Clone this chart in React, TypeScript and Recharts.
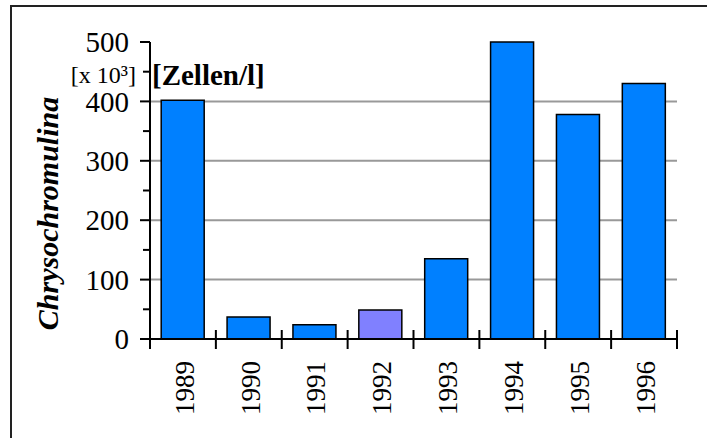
import React from "react"
import { BarChart, Bar, XAxis, YAxis, CartesianGrid, Cell } from "recharts"

const years = ["1989", "1990", "1991", "1992", "1993", "1994", "1995", "1996"]
const cellCounts = [402, 37, 24, 49, 135, 500, 378, 430]
const highlightYear = "1992"
const yTicks = [0, 50, 100, 150, 200, 250, 300, 350, 400, 450, 500]
const gridValues = [100, 200, 300, 400]
const unitTick = 450

const data = years.map((year, i) => ({ year, value: cellCounts[i] }))

const serif = { fontFamily: "'Liberation Serif', 'Times New Roman', Tinos, 'DejaVu Serif', serif" }
const BLUE = "#0080ff"
const LILAC = "#8080ff"

const W = 707
const H = 438

function YTick(props: any) {
  const { x, y, payload } = props
  const v = payload.value
  const right = x + 22
  if (v % 100 === 0) {
    return (
      <g>
        <line x1={right - 10} x2={right} y1={y} y2={y} stroke="#000" strokeWidth={2} />
        <text x={x + 1} y={y} dy="0.35em" textAnchor="end" style={serif} fontSize={29} fill="#000">
          {v}
        </text>
      </g>
    )
  }
  return (
    <g>
      <line x1={right - 7} x2={right} y1={y} y2={y} stroke="#000" strokeWidth={2} />
      {v === unitTick && (
        <>
          <text x={x + 8} y={y + 11} textAnchor="end" style={serif} fontSize={24} fill="#000">
            [x 10³]
          </text>
          <text x={x + 24} y={y + 13} textAnchor="start" style={serif} fontSize={29} fontWeight="bold" fill="#000">
            [Zellen/l]
          </text>
        </>
      )}
    </g>
  )
}

function XTick(props: any) {
  const { x, y, payload, index, visibleTicksCount } = props
  const half = payload.offset ?? (W - 150 - 30) / years.length / 2
  const axisY = y - 21
  const last = index === visibleTicksCount - 1
  return (
    <g>
      <line x1={x - half} x2={x - half} y1={axisY - 9} y2={axisY + 10} stroke="#000" strokeWidth={2} />
      {last && (
        <line x1={x + half} x2={x + half} y1={axisY - 9} y2={axisY + 10} stroke="#000" strokeWidth={2} />
      )}
      <text
        x={x}
        y={y + 1}
        dy="0.4em"
        textAnchor="end"
        transform={`rotate(-90 ${x} ${y + 1})`}
        style={serif}
        fontSize={27}
        fill="#000"
      >
        {payload.value}
      </text>
    </g>
  )
}

function YLabel(props: any) {
  const { viewBox } = props
  const cx = viewBox.x + 47
  const cy = viewBox.y + viewBox.height / 2 + 23
  return (
    <text
      x={cx}
      y={cy}
      dy="0.35em"
      textAnchor="middle"
      transform={`rotate(-90 ${cx} ${cy})`}
      style={serif}
      fontSize={30}
      fontWeight="bold"
      fontStyle="italic"
      fill="#000"
    >
      Chrysochromulina
    </text>
  )
}

export default function App() {
  return (
    <div
      style={{
        position: "absolute",
        left: 0,
        top: 0,
        width: W,
        height: H,
        overflow: "hidden",
        background: "#fff",
      }}
    >
      <div
        style={{
          position: "absolute",
          left: 10,
          top: 5,
          width: 800,
          height: 600,
          border: "2px solid #222",
        }}
      />
      <div style={{ position: "absolute", left: 0, top: 0 }}>
        <BarChart
          width={W}
          height={H}
          data={data}
          margin={{ top: 42, right: 30, bottom: 0, left: 0 }}
          barCategoryGap="17%"
        >
          <CartesianGrid
            vertical={false}
            horizontalValues={gridValues}
            stroke="#999"
            strokeWidth={2}
          />
          <XAxis
            dataKey="year"
            height={99}
            interval={0}
            tickSize={10}
            tickMargin={11}
            tickLine={false}
            axisLine={{ stroke: "#000", strokeWidth: 2 }}
            tick={<XTick />}
          />
          <XAxis xAxisId="top" dataKey="year" orientation="top" height={0} tick={false} tickLine={false} axisLine={{ stroke: "#333", strokeWidth: 2 }} />
          <YAxis
            width={150}
            domain={[0, 500]}
            ticks={yTicks}
            interval={0}
            tickSize={10}
            tickMargin={12}
            tickLine={false}
            axisLine={{ stroke: "#000", strokeWidth: 2 }}
            tick={<YTick />}
            label={<YLabel />}
          />
          <YAxis yAxisId="right" orientation="right" width={0} domain={[0, 500]} tick={false} tickLine={false} axisLine={{ stroke: "#222", strokeWidth: 2 }} />
          <Bar dataKey="value" stroke="#000" strokeWidth={1.5} isAnimationActive={false}>
            {data.map((d) => (
              <Cell key={d.year} fill={d.year === highlightYear ? LILAC : BLUE} />
            ))}
          </Bar>
        </BarChart>
      </div>
    </div>
  )
}
